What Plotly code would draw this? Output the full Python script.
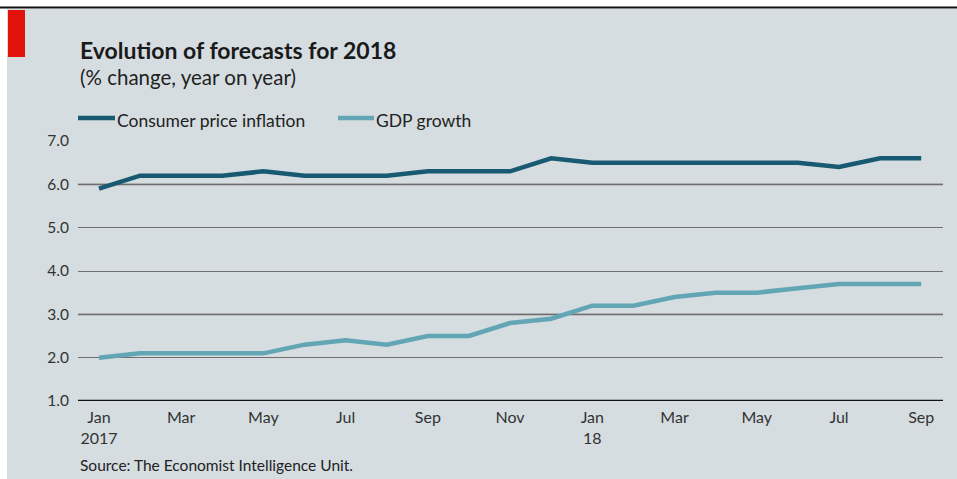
import plotly.graph_objects as go

months = ["Jan 2017", "Feb 2017", "Mar 2017", "Apr 2017", "May 2017", "Jun 2017", "Jul 2017",
          "Aug 2017", "Sep 2017", "Oct 2017", "Nov 2017", "Dec 2017", "Jan 2018", "Feb 2018",
          "Mar 2018", "Apr 2018", "May 2018", "Jun 2018", "Jul 2018", "Aug 2018", "Sep 2018"]
cpi = [5.9, 6.2, 6.2, 6.2, 6.3, 6.2, 6.2, 6.2, 6.3, 6.3, 6.3, 6.6, 6.5, 6.5, 6.5, 6.5, 6.5, 6.5, 6.4, 6.6, 6.6]
gdp = [2.0, 2.1, 2.1, 2.1, 2.1, 2.3, 2.4, 2.3, 2.5, 2.5, 2.8, 2.9, 3.2, 3.2, 3.4, 3.5, 3.5, 3.6, 3.7, 3.7, 3.7]
tick_idx = [0, 2, 4, 6, 8, 10, 12, 14, 16, 18, 20]
tick_text = ["Jan<br>2017", "Mar", "May", "Jul", "Sep", "Nov", "Jan<br>18", "Mar", "May", "Jul", "Sep"]
y_ticks = [1, 2, 3, 4, 5, 6, 7]
light_grid = [3, 6]

W, H = 957, 479
L, R, T, B = 78, 943, 141, 401
BG = "#d5dde0"
CPI_C = "#175a72"
GDP_C = "#62a6b5"
FONT = "Lato"

def px(x):
    return (x - L) / (R - L)

def py(y):
    return (B - y) / (B - T)

x = list(range(len(months)))

fig = go.Figure()
fig.add_trace(go.Scatter(x=x, y=gdp, mode="lines", name="GDP growth",
                         line=dict(color=GDP_C, width=4.5), showlegend=False))
fig.add_trace(go.Scatter(x=x, y=cpi, mode="lines", name="Consumer price inflation",
                         line=dict(color=CPI_C, width=4.5), showlegend=False))

shapes = []
# background panel and frame
shapes.append(dict(type="rect", xref="paper", yref="paper", x0=px(7), x1=px(W + 5), y0=py(9), y1=py(H + 5),
                   fillcolor=BG, line=dict(width=0), layer="below"))
shapes.append(dict(type="line", xref="paper", yref="paper", x0=px(0), x1=px(W + 5), y0=py(7.5), y1=py(7.5),
                   line=dict(color="#111111", width=2), layer="below"))
shapes.append(dict(type="rect", xref="paper", yref="paper", x0=px(8), x1=px(25), y0=py(10), y1=py(57),
                   fillcolor="#e3120b", line=dict(width=0), layer="below"))
# lighter gridlines
for g in light_grid:
    shapes.append(dict(type="line", xref="paper", yref="y", x0=0, x1=1, y0=g, y1=g,
                       line=dict(color="#a2a2a2", width=2.4), layer="between"))
# bottom axis line
shapes.append(dict(type="line", xref="paper", yref="y", x0=0, x1=1, y0=1, y1=1,
                   line=dict(color="#111111", width=2.5), layer="above"))
# legend swatches
shapes.append(dict(type="line", xref="paper", yref="paper", x0=px(78), x1=px(115), y0=py(118), y1=py(118),
                   line=dict(color=CPI_C, width=4.5)))
shapes.append(dict(type="line", xref="paper", yref="paper", x0=px(338), x1=px(374), y0=py(118), y1=py(118),
                   line=dict(color=GDP_C, width=4.5)))

annotations = [
    dict(text="<b>Evolution of forecasts for 2018</b>", xref="paper", yref="paper", x=px(78), y=py(50),
         xanchor="left", yanchor="middle", showarrow=False, font=dict(family=FONT, size=23, color="#1a1a1a")),
    dict(text="(% change, year on year)", xref="paper", yref="paper", x=px(78), y=py(77),
         xanchor="left", yanchor="middle", showarrow=False, font=dict(family=FONT, size=20.5, color="#222222")),
    dict(text="Consumer price inflation", xref="paper", yref="paper", x=px(115), y=py(120),
         xanchor="left", yanchor="middle", showarrow=False, font=dict(family=FONT, size=17.5, color="#222222")),
    dict(text="GDP growth", xref="paper", yref="paper", x=px(374), y=py(120),
         xanchor="left", yanchor="middle", showarrow=False, font=dict(family=FONT, size=17.5, color="#222222")),
    dict(text="Source: The Economist Intelligence Unit.", xref="paper", yref="paper", x=px(78), y=py(465),
         xanchor="left", yanchor="middle", showarrow=False, font=dict(family=FONT, size=15.5, color="#222222")),
]

fig.update_layout(
    width=W, height=H,
    margin=dict(l=L, r=W - R, t=T, b=H - B, pad=0),
    paper_bgcolor="white", plot_bgcolor=BG,
    shapes=shapes, annotations=annotations,
    font=dict(family=FONT, size=15, color="#333333"),
    xaxis=dict(range=[-0.51, 20.53], tickmode="array", tickvals=tick_idx, ticktext=tick_text,
               showgrid=False, zeroline=False, showline=False, ticks="", ticklabelstandoff=5,
               tickfont=dict(family=FONT, size=16, color="#333333"), fixedrange=True),
    yaxis=dict(range=[1, 7], tickmode="array", tickvals=y_ticks,
               ticktext=[f"{v:.1f}" for v in y_ticks],
               showgrid=True, gridcolor="#6e6e6e", gridwidth=1.2, zeroline=False, showline=False,
               ticks="", ticklabelstandoff=8,
               tickfont=dict(family=FONT, size=15.5, color="#333333"), fixedrange=True),
    showlegend=False,
)

fig.write_html("out.html", config={"displayModeBar": False},
               post_script="document.body.style.margin='0';document.body.style.overflow='hidden';")
